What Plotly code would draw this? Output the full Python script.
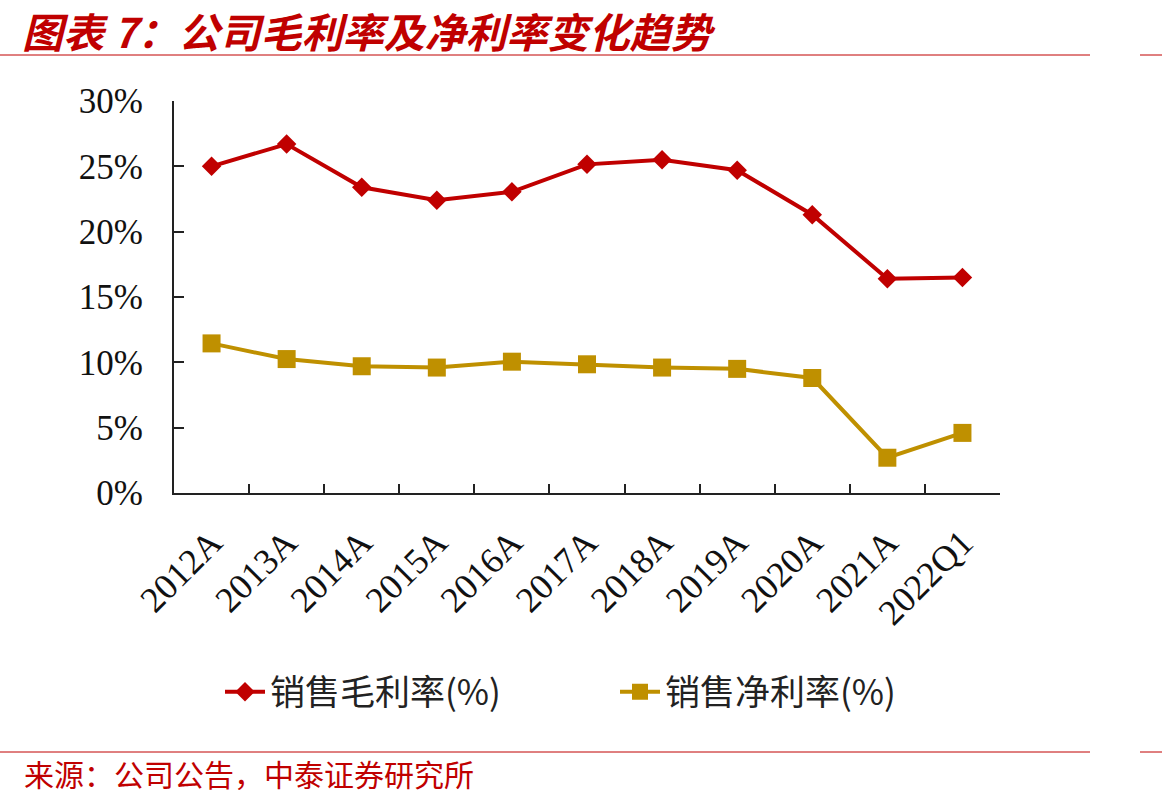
import plotly.graph_objects as go

categories = ["2012A", "2013A", "2014A", "2015A", "2016A", "2017A",
              "2018A", "2019A", "2020A", "2021A", "2022Q1"]
gross_margin = [25.0, 26.7, 23.4, 22.4, 23.05, 25.15, 25.5, 24.7, 21.3, 16.4, 16.5]
net_margin = [11.45, 10.25, 9.7, 9.6, 10.05, 9.85, 9.6, 9.5, 8.8, 2.7, 4.6]
y_ticks = [0, 5, 10, 15, 20, 25, 30]
y_tick_labels = [f"{v}%" for v in y_ticks]

RED = "#C00000"
GOLD = "#BF9000"
W, H = 1162, 803
L, R, T, B = 174, 162, 101, 310
pw, ph = W - L - R, H - T - B

def px(x):
    return (x - L) / pw

def py(y):
    return (H - B - y) / ph

fig = go.Figure()
fig.add_trace(go.Scatter(
    x=categories, y=gross_margin, name="销售毛利率(%)", mode="lines+markers",
    line=dict(color=RED, width=4),
    marker=dict(symbol="diamond", size=15, color=RED),
))
fig.add_trace(go.Scatter(
    x=categories, y=net_margin, name="销售净利率(%)", mode="lines+markers",
    line=dict(color=GOLD, width=4),
    marker=dict(symbol="square", size=18, color=GOLD),
))

serif = "Liberation Serif, Times New Roman, serif"
fig.update_layout(
    width=W, height=H,
    margin=dict(l=L, r=R, t=T, b=B, autoexpand=False),
    paper_bgcolor="white", plot_bgcolor="white",
    showlegend=True,
    legend=dict(
        orientation="h", x=px(615), y=py(692), xanchor="center", yanchor="middle",
        font=dict(family="Noto Sans CJK SC", size=35, color="#222"),
        entrywidth=340, entrywidthmode="pixels",
        itemwidth=40, bgcolor="rgba(0,0,0,0)",
    ),
    title=dict(
        text="图表 7：公司毛利率及净利率变化趋势",
        xref="container", yref="container", x=22 / W, y=1 - 34 / H,
        xanchor="left", yanchor="middle",
        font=dict(family="Noto Sans CJK SC", size=41, color=RED, weight="bold", style="italic"),
    ),
    xaxis=dict(
        type="category", range=[-0.5, len(categories) - 0.5],
        showline=True, linecolor="#222", linewidth=2,
        ticks="inside", tickson="boundaries", ticklen=9, tickwidth=1.5, tickcolor="#222",
        tickangle=-45, showgrid=False, zeroline=False, ticklabelstandoff=12,
        tickfont=dict(family=serif, size=36, color="#111"),
    ),
    yaxis=dict(
        range=[0, 30], tickvals=y_ticks, ticktext=y_tick_labels,
        showline=True, linecolor="#222", linewidth=2,
        ticks="inside", ticklen=10, tickwidth=1.5, tickcolor="#222",
        showgrid=False, zeroline=False, ticklabelstandoff=22,
        tickfont=dict(family=serif, size=35, color="#111"),
    ),
    annotations=[
        dict(text="来源：公司公告，中泰证券研究所", xref="paper", yref="paper",
             x=px(22), y=py(773), xanchor="left", yanchor="middle", showarrow=False,
             font=dict(family="Noto Sans CJK SC", size=30, color=RED)),
    ],
    shapes=[
        dict(type="line", xref="paper", yref="paper", x0=px(0), x1=px(1090), y0=py(55), y1=py(55),
             line=dict(color=RED, width=1)),
        dict(type="line", xref="paper", yref="paper", x0=px(1140), x1=px(1162), y0=py(55), y1=py(55),
             line=dict(color=RED, width=1)),
        dict(type="line", xref="paper", yref="paper", x0=px(0), x1=px(1090), y0=py(752), y1=py(752),
             line=dict(color=RED, width=1)),
        dict(type="line", xref="paper", yref="paper", x0=px(1140), x1=px(1162), y0=py(752), y1=py(752),
             line=dict(color=RED, width=1)),
    ],
)

fig.write_html("out.html")
